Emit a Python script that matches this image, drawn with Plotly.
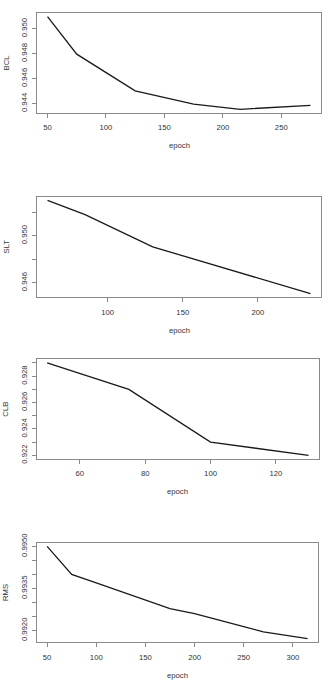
import plotly.graph_objects as go

# values
bcl_epoch = [50, 75, 125, 175, 215, 275]
bcl_val = [0.95096, 0.94796, 0.94502, 0.94396, 0.94354, 0.94386]

slt_epoch = [60, 85, 130, 235]
slt_val = [0.95300, 0.95179, 0.94905, 0.94508]

clb_epoch = [50, 75, 100, 130]
clb_val = [0.9290, 0.9270, 0.9230, 0.9220]

rms_epoch = [50, 75, 100, 150, 175, 200, 225, 250, 270, 300, 315]
rms_val = [0.99500, 0.99400, 0.99370, 0.99309, 0.99278, 0.99260, 0.99238,
           0.99214, 0.99195, 0.99178, 0.99171]

names = ["BCL", "SLT", "CLB", "RMS"]
epochs = [bcl_epoch, slt_epoch, clb_epoch, rms_epoch]
values = [bcl_val, slt_val, clb_val, rms_val]

x_ticks = [[50, 100, 150, 200, 250], [100, 150, 200],
           [60, 80, 100, 120], [50, 100, 150, 200, 250, 300]]
y_ticks = [[0.944, 0.946, 0.948, 0.950],
           [0.946, 0.948, 0.950, 0.952],
           [0.922, 0.923, 0.924, 0.925, 0.926, 0.927, 0.928, 0.929],
           [0.9920, 0.9925, 0.9930, 0.9935, 0.9940, 0.9945, 0.9950]]
y_text = [["0.944", "0.946", "0.948", "0.950"],
          ["0.946", "", "0.950", ""],
          ["0.922", "", "0.924", "", "0.926", "", "0.928", ""],
          ["0.9920", "", "", "0.9935", "", "", "0.9950"]]

# plot boxes in pixels (left, right, top, bottom)
W, H = 332, 688
boxes = [(37, 321, 13, 113), (37, 321, 196.7, 297.3),
         (36.7, 319, 359.3, 459), (36.7, 318, 542.7, 642.3)]

font = "Liberation Sans, Arial, Helvetica, sans-serif"
box_col = "#8a8a8a"
txt_col = "#333333"


def pad(v):
    lo, hi = min(v), max(v)
    d = (hi - lo) * 0.04
    return [lo - d, hi + d]


fig = go.Figure()
annotations = []
layout = {}
for i in range(4):
    n = "" if i == 0 else str(i + 1)
    l, r, t, b = boxes[i]
    fig.add_trace(go.Scatter(x=epochs[i], y=values[i], mode="lines",
                             line=dict(color="#1a1a1a", width=1.3),
                             xaxis="x" + n, yaxis="y" + n,
                             showlegend=False, hoverinfo="skip"))
    layout["xaxis" + n] = dict(
        domain=[l / W, r / W], anchor="y" + n, range=pad(epochs[i]),
        tickvals=x_ticks[i], ticks="outside", ticklen=4, tickwidth=1,
        tickcolor=box_col, showline=True, linecolor=box_col, linewidth=1,
        mirror=True, showgrid=False, zeroline=False, ticklabelstandoff=3,
        automargin=False,
        tickfont=dict(family=font, size=7.7, color=txt_col))
    layout["yaxis" + n] = dict(
        domain=[1 - b / H, 1 - t / H], anchor="x" + n, range=pad(values[i]),
        tickvals=y_ticks[i], ticktext=y_text[i], tickangle=-90,
        ticks="outside", ticklen=4, tickwidth=1, tickcolor=box_col,
        showline=True, linecolor=box_col, linewidth=1, mirror=True,
        showgrid=False, zeroline=False, ticklabelstandoff=2,
        automargin=False,
        tickfont=dict(family=font, size=7.7, color=txt_col))
    annotations.append(dict(text="epoch", xref="paper", yref="paper",
                            x=(l + r) / 2 / W, y=1 - (b + 32.7) / H,
                            xanchor="center", yanchor="middle", showarrow=False,
                            font=dict(family=font, size=7.7, color=txt_col)))
    annotations.append(dict(text=names[i], xref="paper", yref="paper",
                            x=5.5 / W, y=1 - (t + b) / 2 / H, textangle=-90,
                            xanchor="center", yanchor="middle", showarrow=False,
                            font=dict(family=font, size=7.7, color=txt_col)))

fig.update_layout(width=W, height=H, margin=dict(l=0, r=0, t=0, b=0),
                  paper_bgcolor="white", plot_bgcolor="white",
                  annotations=annotations, **layout)

# page body has a default 8px margin; drop it so the figure sits at 0,0
fig.write_html("out.html", config={"displayModeBar": False},
               post_script="document.body.style.margin='0';")
